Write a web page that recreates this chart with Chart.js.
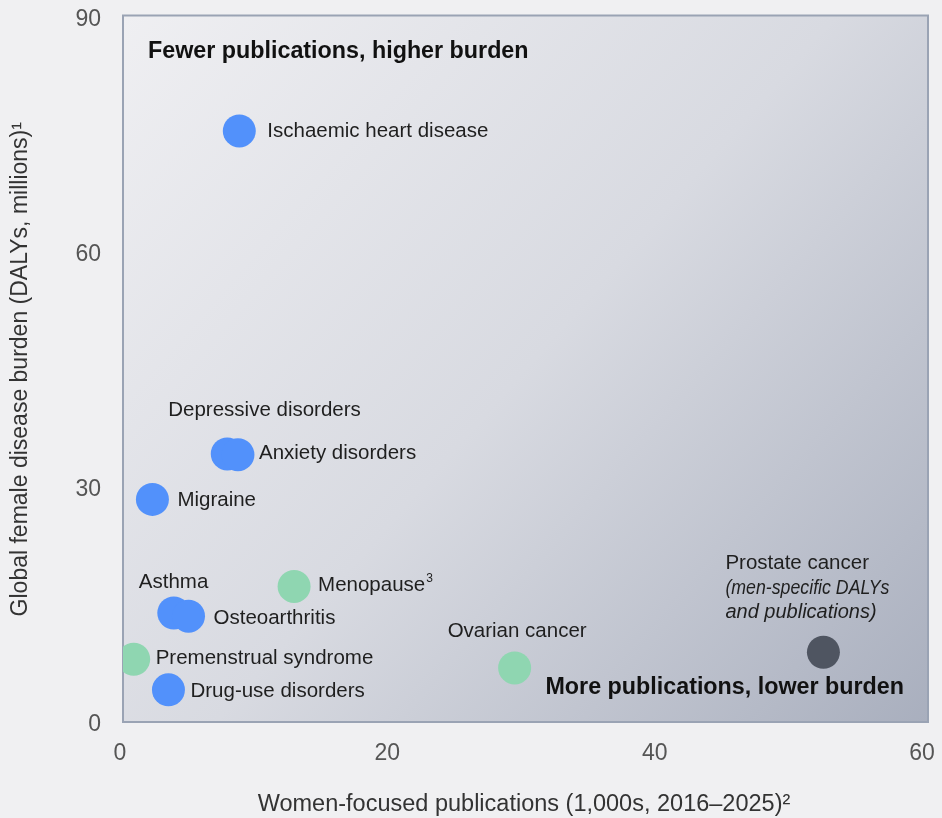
<!DOCTYPE html>
<html>
<head>
<meta charset="utf-8">
<script src="https://cdn.jsdelivr.net/npm/chart.js@4.4.1/dist/chart.umd.min.js"></script>
<style>
  html, body { margin: 0; padding: 0; background: #f0f0f2; }
  #wrap { width: 942px; height: 818px; }
</style>
</head>
<body>
<div id="wrap"><canvas id="graph1" width="942" height="818"></canvas></div>
<script>
// data
var diseases = ['Ischaemic heart disease', 'Depressive disorders', 'Anxiety disorders', 'Migraine',
  'Asthma', 'Osteoarthritis', 'Drug-use disorders', 'Menopause', 'Premenstrual syndrome',
  'Ovarian cancer', 'Prostate cancer'];
var publications = [8.7, 7.8, 8.6, 2.2, 3.8, 4.9, 3.4, 12.8, 0.8, 29.3, 52.4];
var burden = [75.4, 34.2, 34.1, 28.4, 13.9, 13.5, 4.1, 17.3, 8.0, 6.9, 8.9];
var groups = ['general', 'general', 'general', 'general', 'general', 'general', 'general',
  'women', 'women', 'women', 'men'];
var xTicks = [0, 20, 40, 60];
var yTicks = [0, 30, 60, 90];

var groupColors = { general: '#5291fb', women: '#8fd6b1', men: '#4f5561' };
var FONT = '"Liberation Sans", Arial, sans-serif';

// label placement relative to the point, in pixels
var labelPos = {
  'Ischaemic heart disease': [28, 0],
  'Depressive disorders': [-59, -44],
  'Anxiety disorders': [21, -1],
  'Migraine': [25, 1],
  'Asthma': [-35, -31],
  'Osteoarthritis': [25, 2],
  'Drug-use disorders': [22, 1],
  'Menopause': [24, -1],
  'Premenstrual syndrome': [22, -1],
  'Ovarian cancer': [-67, -37],
  'Prostate cancer': [-98, -89]
};

function buildDataset(group) {
  var pts = [];
  for (let i = 0; i < diseases.length; i++) {
    if (groups[i] == group) pts.push({ x: publications[i], y: burden[i], name: diseases[i] });
  }
  return {
    label: group,
    data: pts,
    backgroundColor: groupColors[group],
    borderWidth: 0,
    pointRadius: 16.5,
    pointHoverRadius: 16.5
  };
}

var areaPlugin = {
  id: 'areaPlugin',
  beforeDatasetsDraw: function(chart) {
    var c = chart.ctx, a = chart.chartArea;
    var left = a.left, top = a.top - 1, w = a.right + 3 - a.left, h = a.bottom - top;
    var g = c.createLinearGradient(left, top, left + w, top + h);
    g.addColorStop(0, '#efeff2');
    g.addColorStop(0.5, '#d8dae1');
    g.addColorStop(1, '#a9afbe');
    c.save();
    c.fillStyle = g;
    c.fillRect(left, top, w, h);
    c.strokeStyle = '#9aa3b4';
    c.lineWidth = 2;
    c.strokeRect(left, top, w, h);
    c.restore();
  },
  afterDatasetsDraw: function(chart) {
    var c = chart.ctx, a = chart.chartArea;
    c.save();
    c.textBaseline = 'middle';
    c.textAlign = 'left';
    c.fillStyle = '#1f1f1f';
    chart.data.datasets.forEach(function(ds, di) {
      var meta = chart.getDatasetMeta(di);
      meta.data.forEach(function(el, j) {
        var name = ds.data[j].name;
        var off = labelPos[name];
        var x = el.x + off[0], y = el.y + off[1];
        c.font = '20.5px ' + FONT;
        c.fillText(name, x, y);
        if (name == 'Menopause') {
          var w = c.measureText(name).width;
          c.font = '12px ' + FONT;
          c.fillText('3', x + w + 1, y - 7);
        }
        if (name == 'Prostate cancer') {
          c.font = 'italic 20px ' + FONT;
          c.fillText('(men-specific DALYs', x, y + 25, 164);
          c.fillText('and publications)', x, y + 49, 156);
        }
      });
    });
    c.font = 'bold 23.3px ' + FONT;
    c.fillStyle = '#111';
    c.fillText('Fewer publications, higher burden', a.left + 25, a.top + 35);
    c.textAlign = 'right';
    c.fillText('More publications, lower burden', a.right - 21, a.bottom - 34);
    c.restore();
  }
};

var ctx = document.getElementById('graph1').getContext('2d');

var graph1 = new Chart(ctx, {
  type: 'scatter',
  data: {
    datasets: [buildDataset('general'), buildDataset('women'), buildDataset('men')]
  },
  options: {
    responsive: false,
    animation: false,
    layout: { padding: { top: 15, right: 17, left: 0, bottom: 0 } },
    plugins: {
      legend: { display: false },
      tooltip: { enabled: false }
    },
    scales: {
      x: {
        min: 0, max: 60,
        grid: { display: false },
        border: { display: false },
        afterBuildTicks: function(s) { s.ticks = xTicks.map(function(v) { return { value: v }; }); },
        afterFit: function(s) { s.height = 96; s.paddingLeft = 0; s.paddingRight = 0; },
        ticks: { color: '#555', padding: 10, labelOffset: -3, maxRotation: 0, font: { size: 23, family: FONT } },
        title: {
          display: true,
          text: 'Women-focused publications (1,000s, 2016\u20132025)\u00b2',
          color: '#333',
          padding: { top: 0, bottom: -1 },
          font: { size: 23.5, family: FONT }
        }
      },
      y: {
        min: 0, max: 90,
        grid: { display: false },
        border: { display: false },
        afterBuildTicks: function(s) { s.ticks = yTicks.map(function(v) { return { value: v }; }); },
        afterFit: function(s) { s.width = 123; s.paddingTop = 0; s.paddingBottom = 0; },
        ticks: { color: '#555', padding: 14, labelOffset: 3, font: { size: 23, family: FONT } },
        title: {
          display: true,
          text: 'Global female disease burden (DALYs, millions)\u00b9',
          color: '#333',
          padding: { top: 7, bottom: 0 },
          font: { size: 23, family: FONT }
        }
      }
    }
  },
  plugins: [areaPlugin]
});
</script>
</body>
</html>
